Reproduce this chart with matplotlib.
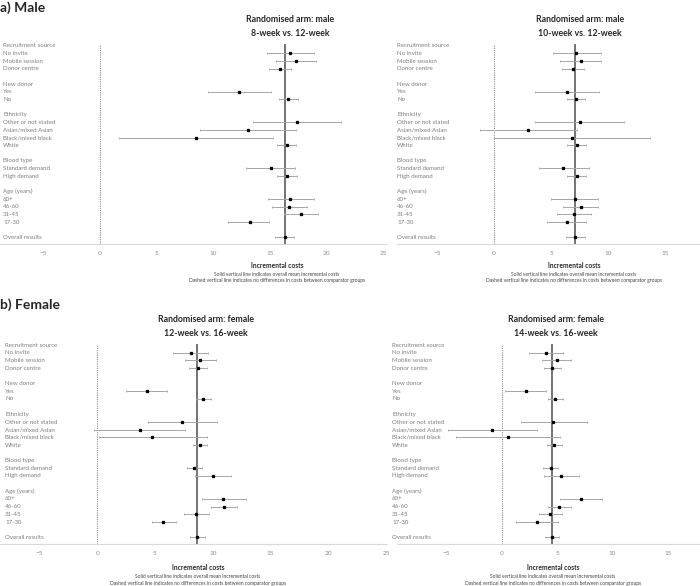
import matplotlib as mpl
mpl.use('agg')
import matplotlib.pyplot as plt
import matplotlib.transforms as mtransforms

plt.rcParams['font.family'] = ['Lato', 'DejaVu Sans']

# row labels (blank strings are spacer rows)
row_labels = ["Recruitment source", "No invite", "Mobile session", "Donor centre", "",
              "New donor", "Yes", "No", "",
              "Ethnicity", "Other or not stated", "Asian/mixed Asian", "Black/mixed black", "White", "",
              "Blood type", "Standard demand", "High demand", "",
              "Age (years)", "60+", "46-60", "31-45", "17-30", "",
              "Overall results"]
# rows holding an estimate, in order
data_rows = [1, 2, 3, 6, 7, 10, 11, 12, 13, 16, 17, 20, 21, 22, 23, 25]

# a) male, 8-week vs 12-week
m8_est = [16.75, 17.3, 15.9, 12.3, 16.6, 17.4, 13.1, 8.5, 16.5, 15.1, 16.5, 16.8, 16.7, 17.7, 13.2, 16.3]
m8_lo = [14.7, 15.5, 14.9, 9.5, 15.8, 13.5, 8.8, 1.7, 15.6, 12.9, 15.6, 14.8, 15.2, 16.2, 11.3, 15.4]
m8_hi = [18.9, 19.1, 16.9, 15.1, 17.5, 21.3, 17.3, 15.3, 17.3, 17.2, 17.4, 18.9, 18.3, 19.2, 14.9, 17.1]

# a) male, 10-week vs 12-week
m10_est = [7.2, 7.6, 6.95, 6.4, 7.2, 7.5, 3.0, 6.8, 7.3, 6.07, 7.27, 7.07, 7.6, 6.98, 6.4, 7.1]
m10_lo = [5.2, 5.8, 5.95, 3.6, 6.4, 3.6, -1.2, 0.0, 6.4, 3.9, 6.4, 5.0, 6.07, 5.5, 4.6, 6.3]
m10_hi = [9.4, 9.4, 7.9, 9.2, 8.0, 11.4, 7.3, 13.7, 8.1, 8.3, 8.1, 9.1, 9.15, 8.5, 8.1, 8.0]

# b) female, 12-week vs 16-week
f12_est = [8.08, 8.9, 8.72, 4.27, 9.18, 7.33, 3.67, 4.73, 8.86, 8.4, 10.04, 10.9, 10.95, 8.57, 5.69, 8.66]
f12_lo = [6.58, 7.57, 7.97, 2.48, 8.55, 4.39, -0.26, 0.15, 8.3, 7.8, 8.5, 9.04, 9.84, 7.5, 4.7, 8.0]
f12_hi = [9.6, 10.25, 9.47, 6.06, 9.82, 10.33, 7.59, 9.47, 9.5, 9.1, 11.6, 12.9, 12.07, 9.67, 6.79, 9.3]

# b) female, 14-week vs 16-week
f14_est = [4.0, 4.96, 4.54, 2.17, 4.84, 4.66, -0.84, 0.54, 4.72, 4.42, 5.36, 7.13, 5.2, 4.39, 3.19, 4.54]
f14_lo = [2.5, 3.67, 3.85, 0.3, 4.21, 1.71, -4.81, -4.12, 4.12, 3.76, 3.82, 5.26, 4.18, 3.4, 1.29, 3.91]
f14_hi = [5.5, 6.23, 5.32, 3.97, 5.5, 7.67, 3.16, 5.26, 5.42, 5.11, 6.95, 9.03, 6.29, 5.48, 5.11, 5.17]

W, H = 700, 586
fig = plt.figure(figsize=(W / 100, H / 100), dpi=100)


def fx(x):
    return x / W


def fy(y):
    return 1 - y / H


def panel(rect, xlim, ticks, est, lo, hi, title, label_x, title_x, title_y, foot_x, foot_y):
    ax = fig.add_axes(rect)
    ax.set_xlim(*xlim)
    ax.set_ylim(25.85, -0.2)
    for s in ['top', 'right', 'left']:
        ax.spines[s].set_visible(False)
    ax.spines['bottom'].set_color('#d9d9d9')
    ax.spines['bottom'].set_linewidth(0.8)
    ax.set_yticks([])
    ax.set_xticks(ticks)
    ax.tick_params(axis='x', length=0, labelsize=4.6, labelcolor='#8c8c8c', pad=5)

    ax.axvline(0, color='#8c8c8c', linestyle=(0, (1, 1)), linewidth=0.8)
    ax.axvline(est[-1], color='#4d4d4d', linewidth=1.1)
    ys = data_rows
    ax.errorbar(est, ys, xerr=[[e - l for e, l in zip(est, lo)], [h - e for e, h in zip(est, hi)]],
                fmt='s', color='black', markersize=1.4, ecolor='#a6a6a6', elinewidth=0.7,
                capsize=1.0, capthick=0.6, zorder=3)

    tr = mtransforms.blended_transform_factory(fig.transFigure, ax.transData)
    for i, lab in enumerate(row_labels):
        if lab:
            ax.text(fx(label_x), i, lab, transform=tr, ha='left', va='center',
                    fontsize=4.4, color='#7f7f7f', clip_on=False)

    fig.text(fx(title_x), fy(title_y), title, ha='center', va='center',
             fontsize=6.3, fontweight='bold', color='#262626', linespacing=1.6)
    fig.text(fx(foot_x), fy(foot_y), "Incremental costs", ha='center', va='center',
             fontsize=4.8, fontweight='bold', color='#262626')
    fig.text(fx(foot_x), fy(foot_y + 8), "Solid vertical line indicates overall mean incremental costs",
             ha='center', va='center', fontsize=3.5, color='#404040')
    fig.text(fx(foot_x), fy(foot_y + 15), "Dashed vertical line indicates no differences in costs between comparator groups",
             ha='center', va='center', fontsize=3.5, color='#404040')
    return ax


top_rect_l = [fx(0), fy(244), fx(387), fy(44.2) - fy(244)]
top_rect_r = [fx(397), fy(244), fx(303), fy(44.2) - fy(244)]
bot_rect_l = [fx(0), fy(544), fx(387), fy(343.5) - fy(544)]
bot_rect_r = [fx(397), fy(544), fx(303), fy(343.5) - fy(544)]

panel(top_rect_l, (-8.83, 25.33), [-5, 0, 5, 10, 15, 20, 25], m8_est, m8_lo, m8_hi,
      "Randomised arm: male\n8-week vs. 12-week", 3, 290, 26.5, 277, 266)
panel(top_rect_r, (-8.49, 18.04), [-5, 0, 5, 10, 15], m10_est, m10_lo, m10_hi,
      "Randomised arm: male\n10-week vs. 12-week", 397, 580, 26.5, 574, 266)
panel(bot_rect_l, (-8.42, 25.08), [-5, 0, 5, 10, 15, 20, 25], f12_est, f12_lo, f12_hi,
      "Randomised arm: female\n12-week vs. 16-week", 5, 206, 326.5, 198, 568)
panel(bot_rect_r, (-9.45, 17.9), [-5, 0, 5, 10, 15], f14_est, f14_lo, f14_hi,
      "Randomised arm: female\n14-week vs. 16-week", 392, 556, 326.5, 553, 568)

fig.text(fx(0), fy(8), "a) Male", ha='left', va='center', fontsize=10, fontweight='bold', color='#262626')
fig.text(fx(0), fy(305), "b) Female", ha='left', va='center', fontsize=10, fontweight='bold', color='#262626')

fig.savefig("out.png", dpi=100)
